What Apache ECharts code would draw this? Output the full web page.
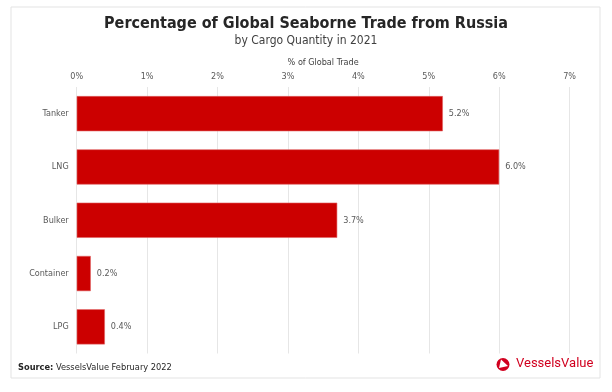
<!DOCTYPE html>
<html><head><meta charset="utf-8">
<script src="https://cdn.jsdelivr.net/npm/echarts@6/dist/echarts.min.js"></script>
<style>html,body{margin:0;padding:0;background:#fff}#c{width:612px;height:392px}</style>
</head><body><div id="c"></div>
<script>
const categories = ['Tanker','LNG','Bulker','Container','LPG'];
const values = [5.2, 6.0, 3.7, 0.2, 0.4];
const tickMax = 7;
const titleText = 'Percentage of Global Seaborne Trade from Russia';
const subtitleText = 'by Cargo Quantity in 2021';
const axisName = '% of Global Trade';
const sourceText = 'VesselsValue February 2022';

const FONT = '"DejaVu Sans Condensed", "DejaVu Sans", sans-serif';
const chart = echarts.init(document.getElementById('c'), null, {renderer:'canvas'});
chart.setOption({
  animation:false,
  textStyle:{fontFamily:FONT},
  title:[{
    text:titleText, left:'center', top:16, padding:0,
    textStyle:{fontFamily:FONT, fontWeight:'bold', fontSize:16, color:'#262626', lineHeight:16}
  },{
    text:subtitleText, left:'center', top:35, padding:0,
    textStyle:{fontFamily:FONT, fontWeight:'normal', fontSize:12, color:'#404040', lineHeight:12}
  }],
  graphic:[
    {type:'rect', shape:{x:11,y:7,width:589,height:371}, style:{fill:'none', stroke:'#e3e3e3', lineWidth:1}, z:-1},
    {type:'text', left:18, top:363, style:{text:'{b|Source:} '+sourceText, fontFamily:FONT, fontSize:9.2, fill:'#262626',
      rich:{b:{fontWeight:'bold', fontFamily:FONT, fontSize:9.2, fill:'#262626'}}}},
    {type:'circle', shape:{cx:503, cy:364.5, r:6.5}, style:{fill:'#d1001f'}},
    {type:'polygon', shape:{points:[[501,359.5],[508,366],[499,368]]}, style:{fill:'#fff'}},
    {type:'text', left:516, top:357.5, style:{text:'VesselsValue', fontFamily:'Roboto, sans-serif', fontSize:13, fill:'#d1001f', letterSpacing:-0.3}}
  ],
  grid:{left:76.7, right:42.4, top:87, bottom:38.5},
  xAxis:{
    type:'value', position:'top', min:0, max:tickMax, interval:1,
    name:axisName, nameLocation:'middle', nameGap:18,
    nameTextStyle:{fontFamily:FONT, fontSize:9, color:'#404040'},
    axisLine:{show:false}, axisTick:{show:false},
    axisLabel:{formatter:'{value}%', fontFamily:FONT, fontSize:9, color:'#595959', margin:6},
    splitLine:{lineStyle:{color:'#e6e6e6'}}
  },
  yAxis:{
    type:'category', data:categories, inverse:true,
    axisLine:{show:false}, axisTick:{show:false},
    axisLabel:{fontFamily:FONT, fontSize:9, color:'#595959', margin:8}
  },
  series:[{
    type:'bar', data:values, barCategoryGap:'34%',
    itemStyle:{color:'#cc0000', borderColor:'#e06060', borderWidth:0.6},
    label:{show:true, position:'right', distance:6, formatter:p=>p.value.toFixed(1)+'%',
      fontFamily:FONT, fontSize:9, color:'#595959'}
  }]
});
</script></body></html>
